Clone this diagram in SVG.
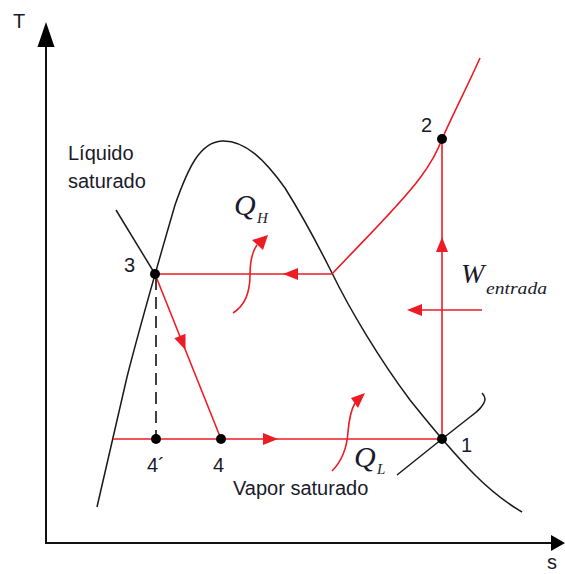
<svg xmlns="http://www.w3.org/2000/svg" xmlns:xlink="http://www.w3.org/1999/xlink" width="565" height="574" viewBox="0 0 565 574">
<style>
.ax{stroke:#111;stroke-width:2;fill:none}
.blk{stroke:#1a1a1a;stroke-width:1.5;fill:none}
.red{stroke:#ed1c24;stroke-width:1.6;fill:none}
.lbl{font-family:"Liberation Sans",Arial,sans-serif;font-size:20px;fill:#1a1a2a}
.it{font-family:"Liberation Serif","Times New Roman",serif;font-style:italic;fill:#1a1a2a}
.dot{fill:#000}
.rf{fill:#ed1c24}
</style>
<defs>
<path id="ah" d="M0,0 L-15,-6 L-15,6 Z" fill="#ed1c24"/>
</defs>
<g id="axes">
<line class="ax" x1="46" y1="544" x2="46" y2="45"/>
<polygon points="37.5,47 46,22 54.5,47" fill="#000"/>
<line class="ax" x1="45" y1="543" x2="553" y2="543"/>
<polygon points="551,535 565,543 551,551" fill="#000"/>
<text class="lbl" x="13" y="28">T</text>
<text class="lbl" x="547" y="569">s</text>
</g>
<g id="dome">
<path class="blk" d="M97,507 L127,377 C142,318 162,250 175,205 C188,168 200,142 222,141 C245,140 265,160 285,188 C300,212 318,245 332,273 C350,310 380,360 410,400 C430,425 450,450 475,475 C490,490 505,502 522,512"/>
</g>
<g id="liquido-saturado">
<line class="blk" x1="116" y1="210" x2="155" y2="274"/>
<text class="lbl"><tspan x="68" y="160">Líquido</tspan><tspan x="68" y="188">saturado</tspan></text>
</g>
<g id="vapor-saturado">
<path class="blk" d="M397,475 L442,439 L470,417 C478,411 484,406 485,400 C485,397 484,395 482,393"/>
<text class="lbl" x="233" y="495">Vapor saturado</text>
</g>
<g id="connectors">
<path class="red" d="M332,274 C360,244 400,205 420,178 C432,162 438,150 442,139 C455,110 468,85 480,58"/>
<line class="red" x1="442" y1="439" x2="442" y2="139"/>
<use xlink:href="#ah" transform="translate(442,237) rotate(-90)"/>
<line class="red" x1="155" y1="274" x2="332" y2="274"/>
<use xlink:href="#ah" transform="translate(283,274) rotate(180)"/>
<line class="red" x1="155" y1="274" x2="221" y2="439"/>
<use xlink:href="#ah" transform="translate(185.5,350) rotate(68.2)"/>
<line class="red" x1="113" y1="439" x2="442" y2="439"/>
<use xlink:href="#ah" transform="translate(278,439)"/>
<line x1="156" y1="278" x2="156" y2="439" stroke="#111" stroke-width="1.6" stroke-dasharray="12,7"/>
</g>
<g id="w-entrada">
<line class="red" x1="409" y1="310" x2="482" y2="310"/>
<use xlink:href="#ah" transform="translate(407,310) rotate(180)"/>
<text class="it" x="461" y="283" font-size="28">W</text>
<text class="it" x="486" y="294" font-size="17" textLength="61" lengthAdjust="spacingAndGlyphs">entrada</text>
</g>
<g id="q-h">
<path class="red" d="M233,313 C246,305 250,292 250,275 C250,263 252,252 257,245"/>
<polygon class="rf" points="268,235 252,240 263,250"/>
<text class="it" x="234" y="215" font-size="30">Q</text>
<text class="it" x="257" y="223" font-size="15">H</text>
</g>
<g id="q-l">
<path class="red" d="M332,471 C343,460 347,447 348,432 C349,420 351,410 355,403"/>
<polygon class="rf" points="365,393 351,398 358,408"/>
<text class="it" x="354" y="467" font-size="30">Q</text>
<text class="it" x="377" y="474" font-size="15">L</text>
</g>
<g id="p1"><circle class="dot" cx="442" cy="439" r="5"/><text class="lbl" x="461" y="452">1</text></g>
<g id="p2"><circle class="dot" cx="442" cy="139" r="5"/><text class="lbl" x="421" y="132">2</text></g>
<g id="p3"><circle class="dot" cx="155" cy="274" r="5"/><text class="lbl" x="124" y="272">3</text></g>
<g id="p4p"><circle class="dot" cx="156" cy="439" r="5"/><text class="lbl" x="147" y="472">4´</text></g>
<g id="p4"><circle class="dot" cx="221" cy="439" r="5"/><text class="lbl" x="213" y="472">4</text></g>
</svg>
